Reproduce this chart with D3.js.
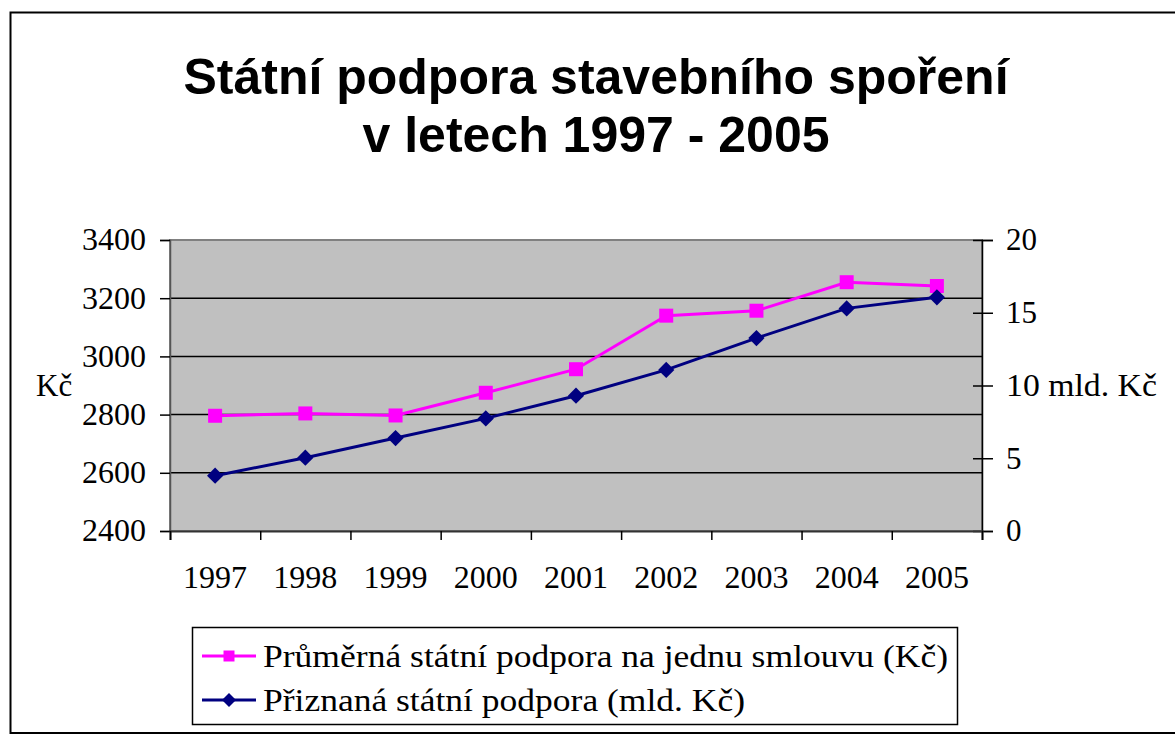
<!DOCTYPE html>
<html>
<head>
<meta charset="utf-8">
<script src="https://cdn.jsdelivr.net/npm/d3@7"></script>
<style>
  body { margin: 0; background: #fff; }
  svg { display: block; }
  .tick text { font-family: "Liberation Serif", "Times New Roman", serif; font-size: 31px; fill: #000; }
</style>
</head>
<body>
<script>
// data
var years = ["1997", "1998", "1999", "2000", "2001", "2002", "2003", "2004", "2005"];
var avgSupport = [2796, 2804, 2797, 2875, 2956, 3140, 3157, 3255, 3242];   // Kč
var totalSupport = [3.8, 5.04, 6.39, 7.74, 9.3, 11.07, 13.26, 15.3, 16.06]; // mld. Kč
var leftTicks = [2400, 2600, 2800, 3000, 3200, 3400];
var rightTicks = [0, 5, 10, 15, 20];
var seriesNames = ["Průměrná státní podpora na jednu smlouvu (Kč)", "Přiznaná státní podpora (mld. Kč)"];

var W = 1175, H = 737;
var m = [240, 193, 206, 170]; // top right bottom left
var w = W - m[1] - m[3], h = H - m[0] - m[2];

var svg = d3.select("body").append("svg")
    .attr("width", W)
    .attr("height", H);

// outer frame
svg.append("rect")
    .attr("x", 10.5).attr("y", 12.5)
    .attr("width", 1180).attr("height", 720.5)
    .attr("fill", "#fff")
    .attr("stroke", "#000")
    .attr("stroke-width", 2);

// title
var title = svg.append("text")
    .attr("text-anchor", "middle")
    .attr("font-family", "'Liberation Sans', Arial, sans-serif")
    .attr("font-weight", "bold")
    .attr("font-size", 50)
    .attr("fill", "#000");
title.append("tspan").attr("x", 596).attr("y", 94).text("Státní podpora stavebního spoření");
title.append("tspan").attr("x", 596).attr("y", 152).text("v letech 1997 - 2005");

//scales
var x = d3.scaleBand().domain(years).range([0, w]);
var xi = d3.scaleLinear().domain([0, years.length]).range([0, w]);
var yL = d3.scaleLinear().domain([2400, 3400]).range([h, 0]);
var yR = d3.scaleLinear().domain([0, 20]).range([h, 0]);

var g = svg.append("g")
    .attr("transform", "translate(" + m[3] + "," + m[0] + ")");

// plot area
g.append("rect")
    .attr("width", w).attr("height", h)
    .attr("fill", "#c0c0c0")
    .attr("stroke", "#808080")
    .attr("stroke-width", 2);

// grid lines
g.append("g").selectAll("line")
    .data(leftTicks.slice(1, -1))
    .enter().append("line")
    .attr("x1", 0).attr("x2", w)
    .attr("y1", function (d) { return yL(d); })
    .attr("y2", function (d) { return yL(d); })
    .attr("stroke", "#000")
    .attr("stroke-width", 1.5);

// left axis
var gl = g.append("g")
    .call(d3.axisLeft(yL).tickValues(leftTicks).tickFormat(d3.format("d")).tickSize(10).tickPadding(14));
gl.selectAll("path, line").attr("stroke", "#000").attr("stroke-width", 1.5);
gl.select(".domain").attr("stroke", "#555");
gl.selectAll(".tick text").attr("textLength", 64).attr("lengthAdjust", "spacingAndGlyphs");

// right axis
var gr = g.append("g")
    .attr("transform", "translate(" + w + ",0)")
    .call(d3.axisRight(yR).tickValues(rightTicks).tickSize(11).tickPadding(13));
gr.selectAll(".tick line").attr("x1", -9);
gr.selectAll("path, line").attr("stroke", "#000").attr("stroke-width", 1.5);
gr.selectAll(".tick text").attr("text-anchor", "start");
gr.selectAll(".tick").filter(function (d) { return d === 10; })
    .select("text").text("10 mld. Kč")
    .attr("textLength", 151).attr("lengthAdjust", "spacingAndGlyphs");

// x axis ticks at category boundaries
var gx = g.append("g")
    .attr("transform", "translate(0," + h + ")")
    .call(d3.axisBottom(xi).tickValues(d3.range(years.length + 1)).tickSize(9).tickFormat(""));
gx.selectAll("path, line").attr("stroke", "#000").attr("stroke-width", 1.5);
gx.select(".domain").attr("stroke", "#333").attr("stroke-width", 2);

// x labels
var gxl = g.append("g")
    .attr("transform", "translate(0," + h + ")")
    .call(d3.axisBottom(x).tickSize(0).tickPadding(35));
gxl.select(".domain").remove();
gxl.selectAll(".tick text").attr("textLength", 64).attr("lengthAdjust", "spacingAndGlyphs");

// left axis title
svg.append("text")
    .attr("x", 36).attr("y", 396)
    .attr("font-family", "'Liberation Serif', 'Times New Roman', serif")
    .attr("font-size", 31)
    .text("Kč");

// lines
var cx = function (d, i) { return x(years[i]) + x.bandwidth() / 2; };
var pinkLine = d3.line().x(cx).y(function (d) { return yL(d); });
var navyLine = d3.line().x(cx).y(function (d) { return yR(d); });

g.append("path")
    .datum(avgSupport)
    .attr("d", pinkLine)
    .attr("fill", "none")
    .attr("stroke", "#ff00ff")
    .attr("stroke-width", 3);

g.append("path")
    .datum(totalSupport)
    .attr("d", navyLine)
    .attr("fill", "none")
    .attr("stroke", "#000080")
    .attr("stroke-width", 3);

var sq = d3.symbol().type(d3.symbolSquare).size(196);
var dia = d3.symbol().type(d3.symbolSquare).size(132); // rotated 45deg below

g.append("g").selectAll("path")
    .data(avgSupport)
    .enter().append("path")
    .attr("d", sq)
    .attr("transform", function (d, i) { return "translate(" + cx(d, i) + "," + yL(d) + ")"; })
    .attr("fill", "#ff00ff");

g.append("g").selectAll("path")
    .data(totalSupport)
    .enter().append("path")
    .attr("d", dia)
    .attr("transform", function (d, i) { return "translate(" + cx(d, i) + "," + yR(d) + ") rotate(45)"; })
    .attr("fill", "#000080");

// legend
var lg = svg.append("g");
lg.append("rect")
    .attr("x", 192.5).attr("y", 627.5)
    .attr("width", 765).attr("height", 97)
    .attr("fill", "#fff")
    .attr("stroke", "#000")
    .attr("stroke-width", 1.5);

var legendItems = [
    { name: seriesNames[0], color: "#ff00ff", y: 656, len: 685 },
    { name: seriesNames[1], color: "#000080", y: 700, len: 482 }
];
var li = lg.selectAll(".li")
    .data(legendItems)
    .enter().append("g")
    .attr("class", "li")
    .attr("transform", function (d) { return "translate(0," + d.y + ")"; });
li.append("line")
    .attr("x1", 202).attr("x2", 256)
    .attr("stroke", function (d) { return d.color; })
    .attr("stroke-width", 3);
li.append("path")
    .attr("d", d3.symbol().type(d3.symbolSquare).size(121))
    .attr("transform", function (d, i) { return "translate(229,0)" + (i === 1 ? " rotate(45) scale(0.9)" : ""); })
    .attr("fill", function (d) { return d.color; });
li.append("text")
    .attr("x", 263).attr("y", 11)
    .attr("font-family", "'Liberation Serif', 'Times New Roman', serif")
    .attr("font-size", 32)
    .attr("textLength", function (d) { return d.len; })
    .attr("lengthAdjust", "spacingAndGlyphs")
    .text(function (d) { return d.name; });
</script>
</body>
</html>
